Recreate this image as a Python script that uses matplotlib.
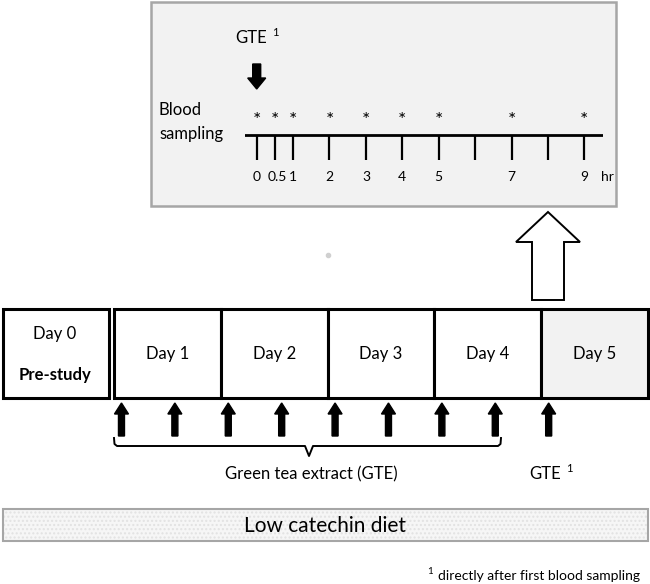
import numpy as np
import matplotlib.pyplot as plt
from matplotlib.patches import Rectangle, FancyArrow

plt.rcParams['font.family'] = ['Lato', 'DejaVu Sans']

# 数据
hours = [0, 0.5, 1, 2, 3, 4, 5, 6, 7, 8, 9]          # 时间轴刻度
hour_labels = ['0', '0.5', '1', '2', '3', '4', '5', '', '7', '', '9']
sample_hours = [0, 0.5, 1, 2, 3, 4, 5, 7, 9]          # 采血时间点
days = ['Day 1', 'Day 2', 'Day 3', 'Day 4', 'Day 5']
dose_times = [0.07, 0.57, 1.07, 1.57, 2.07, 2.57, 3.07, 3.57, 4.07]  # 以天为单位

fig = plt.figure(figsize=(6.5, 5.84), dpi=100)
ax = fig.add_axes([0, 0, 1, 1])
ax.set_xlim(0, 650)
ax.set_ylim(584, 0)
ax.axis('off')

# 上方灰色框
ax.add_patch(Rectangle((151, 2), 465, 204, fc='#f2f2f2', ec='#a6a6a6', lw=1.8))
ax.text(235, 38, 'GTE', fontsize=12, va='center', ha='left')
ax.text(272, 32, '1', fontsize=8, va='center', ha='left')
ax.add_patch(FancyArrow(256.7, 64, 0, 25, width=8, head_width=18, head_length=11,
                        length_includes_head=True, fc='black', ec='black'))
ax.text(159, 110, 'Blood', fontsize=12, va='center', ha='left')
ax.text(159, 134, 'sampling', fontsize=12, va='center', ha='left')

# 时间轴（小时为单位）
tl = fig.add_axes([245 / 650, 1 - 190 / 584, 358 / 650, 90 / 584])
tl.set_xlim(-0.32, 9.51)
tl.set_ylim(190, 100)
tl.axis('off')
tl.axhline(135, color='black', lw=2)
tl.vlines(hours, 135, 160, color='black', lw=1.6)
for h, lab in zip(hours, hour_labels):
    if lab:
        tl.text(h + (0.06 if h == 0.5 else 0), 177, lab, fontsize=10, ha='center', va='center')
tl.text(9.63, 177, 'hr', fontsize=10, ha='center', va='center', clip_on=False)
for h in sample_hours:
    tl.text(h, 120, '*', fontsize=14, ha='center', va='center')

# 空心大箭头
ax.add_patch(FancyArrow(548, 300, 0, -88, width=32, head_width=64, head_length=30,
                        length_includes_head=True, fc='white', ec='black', lw=1.4))
ax.plot([328], [255], 'o', ms=3, color='#d0d0d0')

# 日期框
ax.add_patch(Rectangle((2.5, 309), 106, 89, fc='white', ec='black', lw=2.2))
ax.text(55, 334, 'Day 0', fontsize=12, ha='center', va='center')
ax.text(55, 375, 'Pre-study', fontsize=12, ha='center', va='center', fontweight='bold')
x0, w = 114, 106.8
for i, d in enumerate(days):
    fc = '#f2f2f2' if i == len(days) - 1 else 'white'
    ax.add_patch(Rectangle((x0 + i * w, 309), w, 89, fc=fc, ec='black', lw=2.2))
    ax.text(x0 + (i + 0.5) * w, 354, d, fontsize=12, ha='center', va='center')

# 服药箭头
for t in dose_times:
    ax.add_patch(FancyArrow(x0 + t * w, 436, 0, -33, width=6, head_width=14, head_length=11,
                            length_includes_head=True, fc='black', ec='black'))

# 括号
bx = [114, 114.5, 117, 305, 309, 313, 498, 500.5, 501]
by = [438, 444, 446, 446, 456, 446, 446, 444, 438]
ax.plot(bx, by, color='black', lw=1.4)
ax.text(311, 474, 'Green tea extract (GTE)', fontsize=12, ha='center', va='center')
ax.text(529, 474, 'GTE', fontsize=12, ha='left', va='center')
ax.text(566, 468, '1', fontsize=8, ha='left', va='center')

# 低儿茶素饮食
ax.add_patch(Rectangle((2.5, 509), 645, 32, fc='#f6f6f6', ec='#e2e2e2', lw=0, hatch='....'))
ax.add_patch(Rectangle((2.5, 509), 645, 32, fc='none', ec='#a6a6a6', lw=1.5))
ax.text(325, 526, 'Low catechin diet', fontsize=15, ha='center', va='center')

# 脚注
ax.text(640, 576, 'directly after first blood sampling', fontsize=10, ha='right', va='center')
ax.text(427, 572, '1', fontsize=7, ha='left', va='center')

fig.savefig('out.png', dpi=100)
